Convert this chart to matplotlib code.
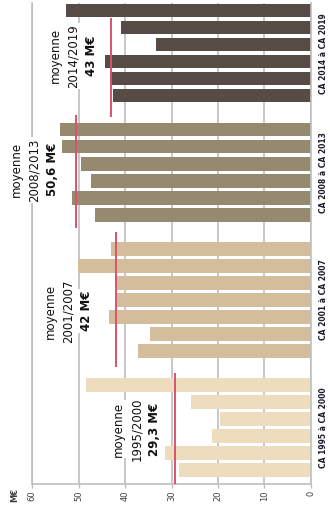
import matplotlib.pyplot as plt

# turnover per year (M€), oldest year first, one list per period
periods = ["CA 1995 à CA 2000", "CA 2001 à CA 2007", "CA 2008 à CA 2013", "CA 2014 à CA 2019"]
ca_1995_2000 = [28.3, 31.3, 21.2, 19.5, 25.8, 48.5]
ca_2001_2007 = [37.2, 34.7, 43.5, 41.7, 42.2, 50.2, 43.1]
ca_2008_2013 = [46.4, 51.5, 47.3, 49.5, 53.5, 54.0]
ca_2014_2019 = [42.7, 43.3, 44.3, 33.4, 40.9, 52.8]
means = [29.3, 42.0, 50.6, 43.0]
mean_labels = ["29,3 M€", "42 M€", "50,6 M€", "43 M€"]
mean_years = ["1995/2000", "2001/2007", "2008/2013", "2014/2019"]
xticks = [60, 50, 40, 30, 20, 10, 0]

series = [ca_1995_2000, ca_2001_2007, ca_2008_2013, ca_2014_2019]
colors = ["#EDDCBE", "#D3BD9C", "#958970", "#574B45"]
mean_color = "#D9536E"
grid_color = "#BFBFBF"

# where each mean bar runs (in bar slots) and where its caption sits
mean_spans = [(-0.82, 5.7), (6.06, 14.0), (14.24, 20.9), (20.76, 26.6)]
caption_pos = [(37.6, 2.41), (52.3, 9.35), (59.6, 17.65), (51.2, 24.35)]

W, H = 330, 505
fig = plt.figure(figsize=(W / 100, H / 100), dpi=100)
ax = fig.add_axes([32.3 / W, 1 - 484 / H, (310.7 - 32.3) / W, (484 - 3.3) / H])

slot = 0
centers = []
for vals, c in zip(series, colors):
    pos = list(range(slot, slot + len(vals)))
    ax.barh(pos, vals, height=0.78, color=c, zorder=2)
    centers.append((pos[0] + pos[-1]) / 2)
    slot += len(vals) + 1

ax.set_xlim(60, 0)
ax.set_ylim(-0.82, 27.44)
ax.set_xticks(xticks)
ax.set_xticklabels([str(t) for t in xticks], rotation=90, fontsize=6, color="#404040")
ax.tick_params(axis="x", length=3, width=1, color=grid_color, pad=1.5)
ax.tick_params(axis="y", left=False, labelleft=False)
ax.grid(axis="x", color=grid_color, lw=1.2, zorder=0)
ax.set_axisbelow(True)
ax.spines["top"].set_visible(False)
for s in ["left", "right", "bottom"]:
    ax.spines[s].set_color(grid_color)
    ax.spines[s].set_linewidth(1.2)
ax.spines["left"].set_zorder(0)

# period averages
for m, (lo, hi) in zip(means, mean_spans):
    ax.plot([m, m], [lo, hi], color=mean_color, lw=1.4, zorder=3, solid_capstyle="butt")

box = dict(facecolor="white", edgecolor="none", pad=1.0)
for (cx, cy), yrs, lab in zip(caption_pos, mean_years, mean_labels):
    lines = [("moyenne", "normal"), (yrs, "normal"), (lab, "bold")]
    for i, (txt, w) in enumerate(lines):
        ax.annotate(txt, (cx, cy), xycoords="data", textcoords="offset points",
                    xytext=((i - 1) * 13, 0), rotation=90, ha="center", va="center",
                    fontsize=8.5, fontweight=w, color="#111111", bbox=box, zorder=4)

# period names along the right edge
for yc, name in zip(centers, periods):
    ax.text(1.046, yc, name, transform=ax.get_yaxis_transform(), rotation=90,
            ha="center", va="center", fontsize=5.5, fontweight="bold", color="#1a1a2e")

fig.text(15 / W, 1 - 488 / H, "M€", rotation=90, ha="center", va="top",
         fontsize=6, fontweight="bold", color="#404040")

fig.savefig("out.png", dpi=100)
